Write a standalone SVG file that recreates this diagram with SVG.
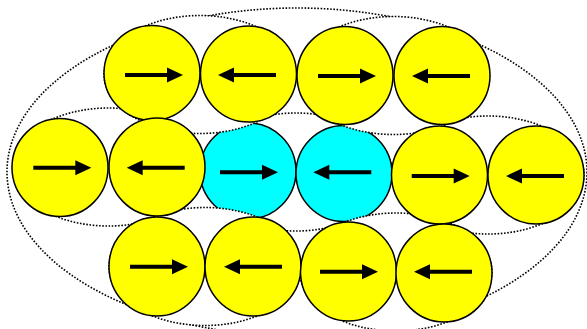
<svg xmlns="http://www.w3.org/2000/svg" xmlns:xlink="http://www.w3.org/1999/xlink" width="587" height="329" viewBox="0 0 587 329">
<style>
.dot{fill:none;stroke:#000;stroke-width:1.6;stroke-dasharray:1.6 1.6}
.dotw{fill:#fff;stroke:#000;stroke-width:1.6;stroke-dasharray:1.6 1.6}
.y{fill:#ff0;stroke:#000;stroke-width:1.5}
.c{fill:#0ff;stroke:#000;stroke-width:1.5}
.sh{stroke:#000;stroke-width:4;fill:none}
</style>
<defs>
<g id="arR"><path class="sh" d="M0 0H43"/><path d="M42 -7.5L58 0L42 7.5Z"/></g>
<g id="arL"><path class="sh" d="M15 0H58"/><path d="M16 -7.5L0 0L16 7.5Z"/></g>
</defs>
<g id="groups">
<ellipse class="dot" cx="297" cy="172" rx="290" ry="164"/>
<ellipse class="dot" cx="108.5" cy="167" rx="96" ry="59"/>
<ellipse class="dot" cx="296" cy="172" rx="96" ry="59"/>
<ellipse class="dot" cx="488" cy="175" rx="96" ry="59"/>
</g>
<g id="n7"><ellipse class="c" cx="248" cy="171" rx="48" ry="48"/><use xlink:href="#arR" x="220" y="172.3"/></g>
<g id="n8"><ellipse class="c" cx="344" cy="173.5" rx="48" ry="48"/><use xlink:href="#arL" x="313.3" y="172.3"/></g>
<g id="groups2">
<ellipse class="dotw" cx="200" cy="74.5" rx="96" ry="59"/>
<ellipse class="dotw" cx="393.5" cy="75.5" rx="96" ry="59"/>
<ellipse class="dotw" cx="205" cy="266.5" rx="96" ry="59"/>
<ellipse class="dotw" cx="396" cy="272" rx="96" ry="59"/>
</g>
<g id="n1"><ellipse class="y" cx="152" cy="73" rx="48" ry="47.5"/><use xlink:href="#arR" x="125" y="75"/></g>
<g id="n2"><ellipse class="y" cx="248.5" cy="74" rx="48" ry="48"/><use xlink:href="#arL" x="218" y="75"/></g>
<g id="n3"><ellipse class="y" cx="345" cy="75.5" rx="48" ry="49"/><use xlink:href="#arR" x="318" y="76"/></g>
<g id="n4"><ellipse class="y" cx="442" cy="75.5" rx="48" ry="49"/><use xlink:href="#arL" x="412" y="76"/></g>
<g id="n5"><ellipse class="y" cx="60" cy="167.5" rx="48" ry="49"/><use xlink:href="#arR" x="33.3" y="167.7"/></g>
<g id="n6"><ellipse class="y" cx="157" cy="167" rx="48" ry="49"/><use xlink:href="#arL" x="126.7" y="167.7"/></g>
<g id="n9"><ellipse class="y" cx="439.5" cy="175" rx="48" ry="49"/><use xlink:href="#arR" x="411.7" y="176"/></g>
<g id="n10"><ellipse class="y" cx="536" cy="175" rx="48" ry="49"/><use xlink:href="#arL" x="506" y="176"/></g>
<g id="n11"><ellipse class="y" cx="157" cy="266.5" rx="48" ry="49.5"/><use xlink:href="#arR" x="130" y="266.7"/></g>
<g id="n12"><ellipse class="y" cx="253" cy="266.5" rx="48" ry="49.5"/><use xlink:href="#arL" x="224" y="266.7"/></g>
<g id="n13"><ellipse class="y" cx="348.5" cy="271.5" rx="48" ry="49.5"/><use xlink:href="#arR" x="320" y="271.7"/></g>
<g id="n14"><ellipse class="y" cx="444" cy="273" rx="48" ry="49"/><use xlink:href="#arL" x="414" y="271.7"/></g>
</svg>
